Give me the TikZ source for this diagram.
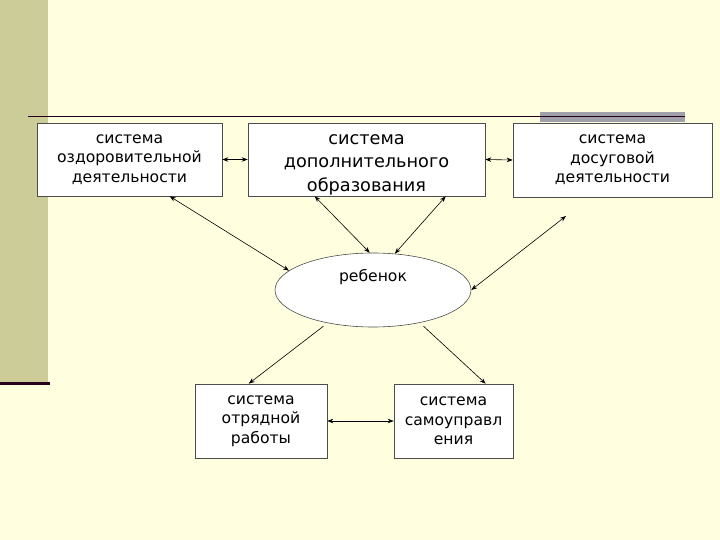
\documentclass[tikz,border=0pt]{standalone}
\usepackage{fontspec}
\setmainfont{DejaVu Sans}
\usetikzlibrary{arrows.meta,shapes.geometric}
\definecolor{bgc}{RGB}{255,255,224}
\definecolor{barc}{RGB}{204,204,153}
\definecolor{linec}{RGB}{40,0,28}
\definecolor{grayc}{RGB}{160,160,170}
\tikzset{
  box/.style={draw=black!70, line width=0.6pt, fill=white, rectangle, align=center, inner sep=0pt,
    font=\fontsize{15.6}{19.5}\selectfont},
  conn/.style={line width=0.6pt, {Stealth[length=6pt,width=4.5pt]}-{Stealth[length=6pt,width=4.5pt]}},
  conn1/.style={line width=0.6pt, -{Stealth[length=6pt,width=4.5pt]}}
}
\begin{document}
\begin{tikzpicture}[x=1pt,y=-1pt]
\fill[bgc] (0,0) rectangle (720,540);
\useasboundingbox (0,0) rectangle (720,540);
\fill[barc] (0,0) rectangle (48,383);
\fill[linec] (0,381.5) rectangle (50,385);
\fill[grayc] (540,112) rectangle (685,122);
\draw[linec, line width=1.8pt] (28,116.5) -- (685,116.5);

\node[box, minimum width=185pt, minimum height=73pt] (b1) at (129.5,159.5) {система\\оздоровительной\\деятельности};
\node[box, minimum width=237pt, minimum height=73pt, font=\fontsize{17.7}{23.5}\selectfont] (b2) at (366.5,159.5) {\rule{0pt}{20pt}система\\дополнительного\\образования};
\node[box, minimum width=199pt, minimum height=74pt] (b3) at (612.5,160) {система\\досуговой\\деятельности};
\node[draw=black!70, line width=0.6pt, fill=white, ellipse, minimum width=196pt, minimum height=74pt, inner sep=0pt, align=center,
  font=\fontsize{15.6}{22}\selectfont] (kid) at (373,290) {ребенок\\\strut};
\node[box, minimum width=132pt, minimum height=74pt] (b4) at (261,421) {система\\отрядной\\работы};
\node[box, minimum width=119pt, minimum height=74pt] (b5) at (453.5,421) {система\\самоуправл\\ения};
\coordinate (free) at (566,216);

\draw[conn] (b1.east) -- (b2.west);
\draw[conn] (b2.east) -- (b3.west);
\draw[conn] ([xshift=133pt]b1.south west) -- (kid.167);
\draw[conn] ([xshift=67pt]b2.south west) -- (kid.95);
\draw[conn] ([xshift=198pt]b2.south west) -- (kid.59);
\draw[conn] (free) -- (kid.east);
\draw[conn1, shorten <=5pt] (kid.-144) -- ([xshift=54pt]b4.north west);
\draw[conn1, shorten <=5pt] (kid.-35) -- ([xshift=92pt]b5.north west);
\draw[conn] (b4.east) -- (b5.west);
\end{tikzpicture}
\end{document}
